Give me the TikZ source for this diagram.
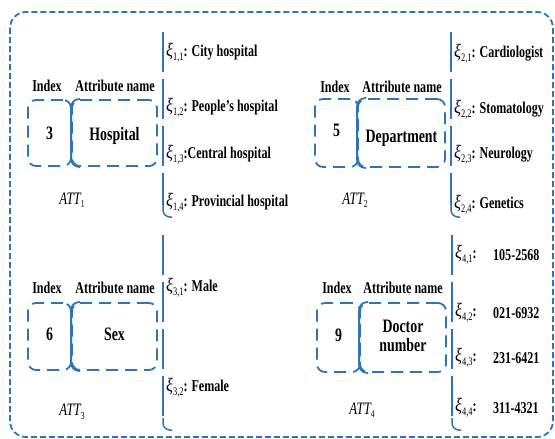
\documentclass[tikz,border=0pt]{standalone}
\usepackage{fontspec}
\setmainfont{Liberation Serif}[FakeStretch=0.73]
\newfontfamily\xifont{Liberation Serif}[FakeStretch=0.85]
\definecolor{bl}{RGB}{46,117,182}
\newcommand\xil[1]{{\mdseries\xifont\itshape\fontsize{19}{19}\selectfont ξ}\raisebox{-4pt}{\mdseries\fontsize{11.5}{11}\selectfont #1}}
\newcommand\att[1]{{\itshape ATT}\raisebox{-3.5pt}{\fontsize{10.5}{10}\selectfont #1}}
\tikzset{
  frame/.style={draw=bl, line width=1.8pt, dash pattern=on 6pt off 3pt, rounded corners=16pt},
  boxd/.style={draw=bl, line width=1.8pt, dash pattern=on 12pt off 7pt, rounded corners=8pt, inner sep=0pt},
  solidside/.style={draw=bl, line width=1.8pt, rounded corners=8pt},
  vline/.style={draw=bl, line width=1.5pt, dash pattern=on 40pt off 7pt},
  hook/.style={draw=bl, line width=1.5pt, rounded corners=7pt},
  lbl/.style={font=\bfseries\fontsize{16.5}{18}\selectfont, inner sep=0pt},
  big/.style={font=\bfseries\fontsize{19}{19}\selectfont, inner sep=0pt, align=center},
  attl/.style={font=\fontsize{17.5}{18}\selectfont, inner sep=0pt},
  item/.style={anchor=west, font=\bfseries\fontsize{16.5}{18}\selectfont, inner sep=0pt},
}
\begin{document}
\begin{tikzpicture}[x=1pt,y=-1pt]
\useasboundingbox (0,0) rectangle (555,439);
\draw[frame] (10,12) rectangle (553,437);

% ---------- Q1 ----------
\node[lbl] (idx1) at (47,86) {Index};
\node[lbl] (an1) at (115,86) {Attribute name};
\node[boxd, minimum width=43pt, minimum height=66pt] (i1) at (49.5,133) {};
\node[boxd, minimum width=85pt, minimum height=66pt] (a1) at (114.5,133) {};
\draw[solidside] ([xshift=9pt]a1.north west) -- (a1.north west) -- (a1.south west) -- ([xshift=9pt]a1.south west);
\node[big] (n1) at (i1.center) {3};
\node[big] (t1) at ([yshift=-3pt]a1.center) {Hospital};
\node[attl] (att1) at (72,200) {\att{1}};
\coordinate (v1t) at (163,32);
\coordinate (v1b) at (163,205);
\coordinate (v1e) at (172,217);
\draw[vline] (v1t) -- (v1b);
\draw[hook] (v1b) |- (v1e);
\node[item] (x11) at (166,53) {\xil{1,1}: City hospital};
\node[item] (x12) at (166,108) {\xil{1,2}: People's hospital};
\node[item] (x13) at (166,155) {\xil{1,3}:Central hospital};
\node[item] (x14) at (166,203) {\xil{1,4}: Provincial hospital};

% ---------- Q2 ----------
\node[lbl] (idx2) at (335,87) {Index};
\node[lbl] (an2) at (402,87) {Attribute name};
\node[boxd, minimum width=43pt, minimum height=68pt] (i2) at (336.5,133) {};
\node[boxd, minimum width=87pt, minimum height=68pt] (a2) at (401.5,133) {};
\draw[solidside] ([xshift=9pt]a2.north west) -- (a2.north west) -- (a2.south west) -- ([xshift=9pt]a2.south west);
\node[big] (n2) at ([yshift=3pt]i2.center) {5};
\node[big] (t2) at ([yshift=-5pt]a2.center) {Department};
\node[attl] (att2) at (355,200) {\att{2}};
\coordinate (v2t) at (451,32);
\coordinate (v2b) at (451,205);
\coordinate (v2e) at (460,217);
\draw[vline] (v2t) -- (v2b);
\draw[hook] (v2b) |- (v2e);
\node[item] (x21) at (454,54) {\xil{2,1}: Cardiologist};
\node[item] (x22) at (454,110) {\xil{2,2}: Stomatology};
\node[item] (x23) at (454,155) {\xil{2,3}: Neurology};
\node[item] (x24) at (454,205) {\xil{2,4}: Genetics};

% ---------- Q3 ----------
\node[lbl] (idx3) at (47,288) {Index};
\node[lbl] (an3) at (115,288) {Attribute name};
\node[boxd, minimum width=43pt, minimum height=67pt] (i3) at (49.5,336.5) {};
\node[boxd, minimum width=85pt, minimum height=67pt] (a3) at (114.5,336.5) {};
\draw[solidside] ([xshift=9pt]a3.north west) -- (a3.north west) -- (a3.south west) -- ([xshift=9pt]a3.south west);
\node[big] (n3) at ([yshift=2pt]i3.center) {6};
\node[big] (t3) at ([yshift=2pt]a3.center) {Sex};
\node[attl] (att3) at (72,412) {\att{3}};
\coordinate (v3t) at (163,235);
\coordinate (v3b) at (163,418);
\coordinate (v3e) at (172,430);
\draw[vline] (v3t) -- (v3b);
\draw[hook] (v3b) |- (v3e);
\node[item] (x31) at (166,288) {\xil{3,1}: Male};
\node[item] (x32) at (166,388) {\xil{3,2}: Female};

% ---------- Q4 ----------
\node[lbl] (idx4) at (337,288) {Index};
\node[lbl] (an4) at (403,288) {Attribute name};
\node[boxd, minimum width=43pt, minimum height=69pt] (i4) at (338.5,337.5) {};
\node[boxd, minimum width=86pt, minimum height=69pt] (a4) at (403,337.5) {};
\draw[solidside] ([xshift=9pt]a4.north west) -- (a4.north west) -- (a4.south west) -- ([xshift=9pt]a4.south west);
\node[big] (n4) at ([yshift=2pt]i4.center) {9};
\node[big] (t4) at ([yshift=2pt]a4.center) {Doctor\\number};
\node[attl] (att4) at (362,410) {\att{4}};
\coordinate (v4t) at (452,235);
\coordinate (v4b) at (452,418);
\coordinate (v4e) at (461,430);
\draw[vline] (v4t) -- (v4b);
\draw[hook] (v4b) |- (v4e);
\node[item] (x41) at (455,255) {\xil{4,1}:};
\node[item] (x42) at (455,313) {\xil{4,2}:};
\node[item] (x43) at (455,358) {\xil{4,3}:};
\node[item] (x44) at (455,408) {\xil{4,4}:};
\node[item] (d41) at (493,255) {105-2568};
\node[item] (d42) at (493,313) {021-6932};
\node[item] (d43) at (493,358) {231-6421};
\node[item] (d44) at (493,408) {311-4321};
\end{tikzpicture}
\end{document}
